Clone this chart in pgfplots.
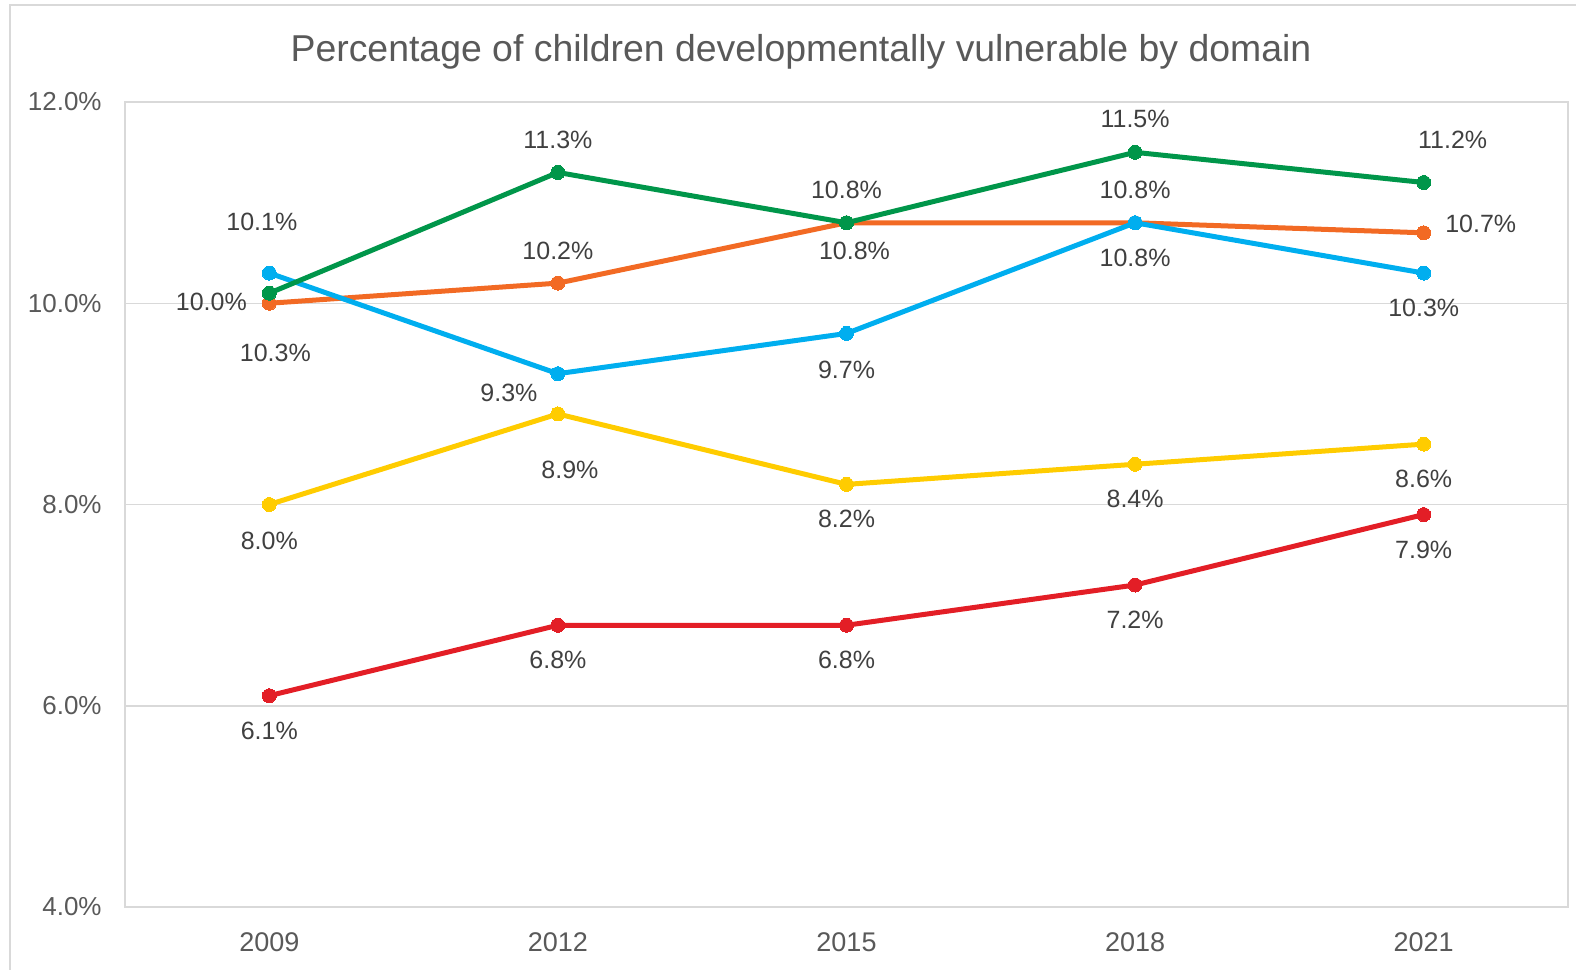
\documentclass[border=0pt]{standalone}
\usepackage{pgfplots}
\pgfplotsset{compat=1.18}
\usepackage{pgfplotstable}
\usepackage{fontspec}
\setmainfont{Liberation Sans}
\definecolor{cgreen}{HTML}{00964A}
\definecolor{corange}{HTML}{F26A24}
\definecolor{cblue}{HTML}{00AEEF}
\definecolor{cyellow}{HTML}{FFCC00}
\definecolor{cred}{HTML}{E31E26}
\definecolor{cgrid}{HTML}{D9D9D9}
\definecolor{ctick}{HTML}{595959}
\definecolor{clabel}{HTML}{404040}

\pgfplotstableread{
x y dx dy
0 10.1 -3.75 35.5
1 11.3 0 16.25
2 10.8 0 16.5
3 11.5 0 16.5
4 11.2 14.5 21.5
}\tgreen
\pgfplotstableread{
x y dx dy
0 10.0 -29 0.5
1 10.2 0 16
2 10.8 4 -14
3 10.8 0 16.5
4 10.7 28.5 4.5
}\torange
\pgfplotstableread{
x y dx dy
0 10.3 3 -40
1 9.3 -24.5 -9.5
2 9.7 0 -18
3 10.8 0 -17.5
4 10.3 0 -17.5
}\tblue
\pgfplotstableread{
x y dx dy
0 8.0 0 -18
1 8.9 6 -28
2 8.2 0 -17.5
3 8.4 0 -17.5
4 8.6 0 -17.5
}\tyellow
\pgfplotstableread{
x y dx dy
0 6.1 0 -17.5
1 6.8 0 -17.5
2 6.8 0 -17.5
3 7.2 0 -17.5
4 7.9 0 -17.5
}\tred

\pgfplotsset{
  lbl/.style={
    point meta=y,
    visualization depends on={\thisrow{dx}\as\dx},
    visualization depends on={\thisrow{dy}\as\dy},
    nodes near coords={\pgfmathprintnumber[fixed,fixed zerofill,precision=1]{\pgfplotspointmeta}\%},
    every node near coord/.append style={anchor=center, xshift=\dx pt, yshift=\dy pt,
      font=\fontsize{12.5}{14}\selectfont, text=clabel, inner sep=0pt},
  },
  ser/.style={color=#1, line width=2.5pt, line join=round, mark=*, mark size=3.5pt, mark options={solid, fill=#1, draw=#1, line width=0pt}},
}

\begin{document}
\begin{tikzpicture}
\path[use as bounding box] (0,0) rectangle (788pt,485pt);
\node[font=\bfseries\fontsize{40}{40}\selectfont, anchor=base west, inner sep=0pt] at (191pt,494.4pt) {y};
\draw[cgrid, line width=0.9pt] (5pt,-2pt) -- (5pt,482.5pt) -- (790pt,482.5pt);
\node[font=\fontsize{18.7}{22}\selectfont, text=ctick] at (400.5pt,459pt) {Percentage of children developmentally vulnerable by domain};
\begin{axis}[
  at={(62.5pt,31.5pt)}, anchor=south west,
  scale only axis, width=721.5pt, height=402.5pt,
  xmin=-0.5, xmax=4.5, ymin=4, ymax=12,
  xtick={0,1,2,3,4}, xticklabels={2009,2012,2015,2018,2021},
  ytick={4,6,8,10,12},
  yticklabel={\pgfmathprintnumber[fixed,fixed zerofill,precision=1]{\tick}\%},
  /pgf/number format/assume math mode=true,
  major tick length=0pt,
  ymajorgrids, grid style={cgrid, line width=0.75pt},
  axis line style={cgrid, line width=0.75pt},
  yticklabel style={text=ctick, font=\fontsize{13}{15}\selectfont, inner sep=0pt, anchor=east, xshift=-11.5pt},
  xticklabel style={text=ctick, font=\fontsize{13.5}{15}\selectfont, inner sep=0pt, anchor=north, yshift=-12.5pt},
  clip=false,
]
\addplot[ser=corange, lbl] table[x=x,y=y] {\torange};
\addplot[ser=cblue, lbl] table[x=x,y=y] {\tblue};
\addplot[ser=cgreen, lbl] table[x=x,y=y] {\tgreen};
\addplot[ser=cyellow, lbl] table[x=x,y=y] {\tyellow};
\addplot[ser=cred, lbl] table[x=x,y=y] {\tred};
\end{axis}
\end{tikzpicture}
\end{document}
